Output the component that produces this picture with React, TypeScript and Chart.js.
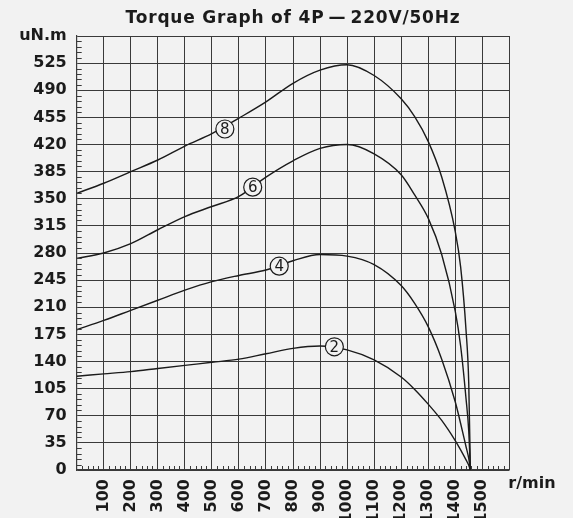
import React, { useEffect, useRef } from "react";
import { Chart, registerables } from "chart.js";

Chart.register(...registerables);

const TITLE = "Torque Graph of 4P\u2009\u2014\u2009220V/50Hz";
const Y_UNIT = "uN.m";
const X_UNIT = "r/min";

// speed (r/min)
const rpm = [0, 100, 200, 300, 400, 500, 600, 700, 800, 900, 1000, 1100, 1200, 1250, 1300, 1350, 1400, 1420, 1440, 1450, 1456];
// torque (uN.m) for each curve
const curve8 = [357, 370, 385, 400, 418, 434, 454, 475, 499, 516, 523, 509, 479, 456, 424, 378, 308, 262, 180, 112, 0];
const curve6 = [273, 280, 292, 310, 327, 340, 353, 378, 399, 415, 420, 408, 381, 355, 325, 278, 205, 160, 92, 50, 0];
const curve4 = [181, 193, 206, 219, 232, 243, 251, 258, 270, 278, 276, 265, 238, 215, 185, 143, 88, 60, 30, 15, 0];
const curve2 = [121, 124, 127, 131, 135, 139, 143, 150, 157, 160, 155, 142, 120, 104, 85, 64, 38, 26, 13, 6, 0];

// circled curve labels
const labelNames = ["8", "6", "4", "2"];
const labelRpm = [548, 651, 749, 953];
const labelTorque = [440, 365, 263, 159];

// axes
const X_MIN = 0, X_MAX = 1600, X_STEP = 100, X_MINOR = 20;
const Y_MIN = 0, Y_MAX = 560, Y_STEP = 35, Y_MINOR = 7;

const BG = "#f2f2f2";
const INK = "#1b1b1b";
const GRID = "#3a3a3a";
const FONT = "DejaVu Sans";

const W = 573;
const H = 532;

export default function App() {
  const ref = useRef<HTMLCanvasElement | null>(null);

  useEffect(() => {
    const canvas = ref.current;
    if (!canvas) return;
    const series = [curve8, curve6, curve4, curve2];

    const decor = {
      id: "decor",
      afterDraw(chart: any) {
        const { ctx, chartArea } = chart;
        const xs = chart.scales.x;
        const ys = chart.scales.y;
        ctx.save();
        // minor ticks
        ctx.strokeStyle = GRID;
        ctx.lineWidth = 1;
        ctx.beginPath();
        for (let v = X_MIN; v <= X_MAX; v += X_MINOR) {
          if (v % X_STEP === 0) continue;
          const px = Math.round(xs.getPixelForValue(v)) + 0.5;
          ctx.moveTo(px, chartArea.bottom);
          ctx.lineTo(px, chartArea.bottom - 4);
        }
        for (let v = Y_MIN; v <= Y_MAX; v += Y_MINOR) {
          if (v % Y_STEP === 0) continue;
          const py = Math.round(ys.getPixelForValue(v)) + 0.5;
          ctx.moveTo(chartArea.left, py);
          ctx.lineTo(chartArea.left + 5, py);
        }
        ctx.stroke();

        // circled labels
        for (let i = 0; i < labelNames.length; i++) {
          const px = xs.getPixelForValue(labelRpm[i]);
          const py = ys.getPixelForValue(labelTorque[i]);
          ctx.beginPath();
          ctx.arc(px, py, 9, 0, Math.PI * 2);
          ctx.fillStyle = BG;
          ctx.fill();
          ctx.lineWidth = 1.2;
          ctx.strokeStyle = INK;
          ctx.stroke();
          ctx.fillStyle = INK;
          ctx.font = `15px "${FONT}"`;
          ctx.textAlign = "center";
          ctx.textBaseline = "middle";
          ctx.fillText(labelNames[i], px, py + 1);
        }

        // title, centred over the plot
        ctx.fillStyle = INK;
        ctx.font = `bold 17px "${FONT}"`;
        (ctx as any).letterSpacing = "0.8px";
        ctx.textAlign = "center";
        ctx.textBaseline = "middle";
        ctx.fillText(TITLE, (chartArea.left + chartArea.right) / 2, 19);
        (ctx as any).letterSpacing = "0px";

        // x unit
        ctx.font = `bold 16px "${FONT}"`;
        ctx.textAlign = "left";
        ctx.fillText(X_UNIT, chartArea.right - 1, chartArea.bottom + 14);
        ctx.restore();
      },
    };

    const tickFont = { family: FONT, size: 16, weight: "bold" as const };

    const chart = new Chart(canvas, {
      type: "line",
      data: {
        datasets: series.map((s) => ({
          data: s.map((v, i) => ({ x: rpm[i], y: v })),
          borderColor: INK,
          borderWidth: 1.4,
          pointRadius: 0,
          fill: false,
          cubicInterpolationMode: "monotone" as const,
        })),
      },
      options: {
        responsive: false,
        animation: false,
        devicePixelRatio: 1,
        layout: { padding: { top: 36, right: W - 509.3, bottom: 0, left: 0 } },
        plugins: {
          legend: { display: false },
          tooltip: { enabled: false },
          title: { display: false },
        },
        scales: {
          x: {
            type: "linear",
            min: X_MIN,
            max: X_MAX,
            afterFit: (s: any) => {
              s.height = H - 470;
            },
            ticks: {
              stepSize: X_STEP,
              autoSkip: false,
              minRotation: 90,
              maxRotation: 90,
              padding: 9,
              color: INK,
              font: tickFont,
              callback: (v: any) => (v === X_MIN || v === X_MAX ? "" : String(v)),
            },
            grid: { color: GRID, lineWidth: 1, drawTicks: false },
            border: { color: GRID, width: 1.2 },
          },
          y: {
            type: "linear",
            min: Y_MIN,
            max: Y_MAX,
            afterFit: (s: any) => {
              s.width = 76.7;
            },
            ticks: {
              stepSize: Y_STEP,
              padding: 10,
              color: INK,
              font: tickFont,
              callback: (v: any) => (v === Y_MAX ? Y_UNIT : String(v)),
            },
            grid: { color: GRID, lineWidth: 1, drawTicks: false },
            border: { color: GRID, width: 1.2 },
          },
        },
      },
      plugins: [decor],
    });
    return () => chart.destroy();
  }, []);

  return (
    <div
      style={{
        position: "fixed",
        left: 0,
        top: 0,
        width: W,
        height: 518,
        overflow: "hidden",
        background: BG,
      }}
    >
      <canvas ref={ref} width={W} height={H} style={{ display: "block", width: W, height: H }} />
    </div>
  );
}
